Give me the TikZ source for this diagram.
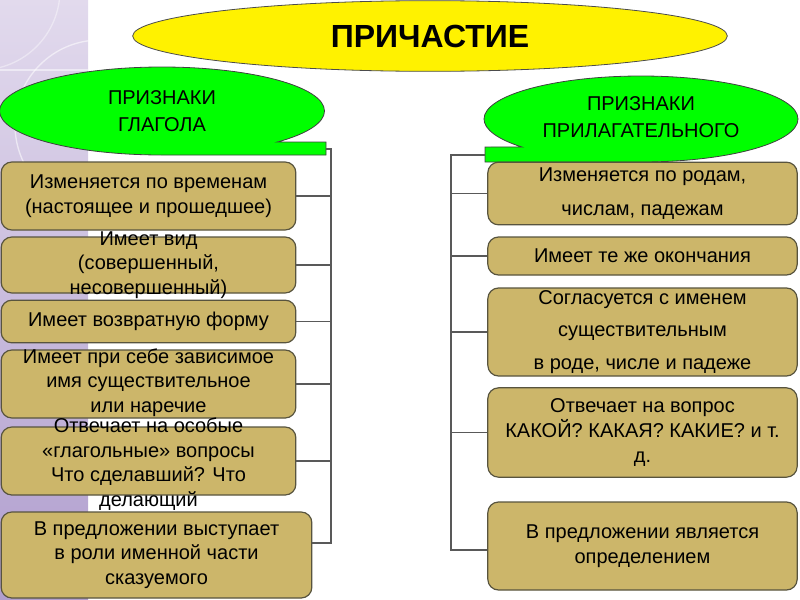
\documentclass[tikz,border=0pt]{standalone}
\usepackage{fontspec}
\setmainfont{Liberation Sans}
\usetikzlibrary{shapes.geometric}

\definecolor{signfill}{RGB}{204,182,106}
\definecolor{signline}{RGB}{88,84,62}
\definecolor{lilactop}{RGB}{226,218,237}
\definecolor{lilacbot}{RGB}{176,158,206}
\definecolor{limegreen}{RGB}{0,255,0}

\tikzstyle{sign} = [rectangle, rounded corners=8pt, draw=signline, line width=0.9pt, fill=signfill, minimum width=221pt]
\tikzstyle{signtext} = [align=center, inner sep=0pt, font=\fontsize{15}{18.5}\selectfont]
\tikzstyle{bubble} = [draw=black!75, line width=0.6pt, fill=limegreen]
\tikzstyle{group} = [align=center, inner sep=0pt, font=\fontsize{15}{20.5}\selectfont]
\tikzstyle{link} = [draw=black!65, line width=0.9pt]

\begin{document}
\begin{tikzpicture}[x=0.75pt, y=-0.75pt]
    \useasboundingbox (0,0) rectangle (800,600);
    % lilac strip on the left
    \shade[top color=lilactop, bottom color=lilacbot] (0,0) rectangle (88,600);
    \begin{scope}
        \clip (0,0) rectangle (88,600);
        \draw[white, opacity=0.55, line width=1pt] (100,125) circle (85);
        \draw[white, opacity=0.4, line width=1pt] (-20,-10) circle (80);
        \draw[white, opacity=0.5, line width=0.8pt] (0,70) -- (88,70);
    \end{scope}

    % green bubbles with their tabs
    \draw[bubble] (162,155) arc[start angle=90, end angle=404.8, x radius=162.5, y radius=44]
        -- (326,142) -- (326,155) -- cycle;
    \node (glagol) at (162,111) [group] {ПРИЗНАКИ\\ГЛАГОЛА};
    \coordinate (gtab) at (326,149);
    \draw[bubble] (641,162) arc[start angle=90, end angle=-220.6, x radius=157, y radius=43]
        -- (485,147) -- (485,162) -- cycle;
    \node (prilag) at (641,117) [group] {ПРИЗНАКИ\\ПРИЛАГАТЕЛЬНОГО};
    \coordinate (ptab) at (485,155);

    % title
    \node (prich) at (430,36) [ellipse, draw=black!70, line width=0.6pt, fill=yellow, minimum width=446pt, minimum height=53pt, font=\fontsize{24}{28}\selectfont\bfseries] {ПРИЧАСТИЕ};

    % left column
    \node (l1) at (148.5,196) [sign, minimum height=51pt] {};
    \node (l1t) at (l1) [signtext] {Изменяется по временам\\(настоящее и прошедшее)};
    \node (l2) at (148.5,265) [sign, minimum height=42pt] {};
    \node (l2t) at (l2) [signtext] {Имеет вид\\(совершенный,\\несовершенный)};
    \node (l3) at (148.5,321.5) [sign, minimum height=32pt] {};
    \node (l3t) at (l3) [signtext] {Имеет возвратную форму};
    \node (l4) at (148.5,384) [sign, minimum height=51pt] {};
    \node (l4t) at (148.5,382.5) [signtext] {Имеет при себе зависимое\\имя существительное\\или наречие};
    \node (l5) at (148.5,461) [sign, minimum height=51pt] {};
    \node (l5t) at (148.5,464) [signtext] {Отвечает на особые\\«глагольные» вопросы\\Что сделавший? Что\\делающий};
    \node (l6) at (156.5,555) [sign, minimum width=233pt, minimum height=64.5pt] {};
    \node (l6t) at (l6) [signtext] {В предложении выступает\\в роли именной части\\сказуемого};

    % right column
    \node (r1) at (642.5,193.5) [sign, minimum width=232pt, minimum height=47pt] {};
    \node (r1t) at (r1) [signtext] {Изменяется по родам,\\[7pt]числам, падежам};
    \node (r2) at (642.5,256) [sign, minimum width=232pt, minimum height=28.5pt] {};
    \node (r2t) at (r2) [signtext] {Имеет те же окончания};
    \node (r3) at (642.5,332) [sign, minimum width=232pt, minimum height=66pt] {};
    \node (r3t) at (r3) [signtext] {Согласуется с именем\\[6pt]существительным\\[6pt]в роде, числе и падеже};
    \node (r4) at (642.5,432.5) [sign, minimum width=232pt, minimum height=67pt] {};
    \node (r4t) at (r4) [signtext] {Отвечает на вопрос\\КАКОЙ? КАКАЯ? КАКИЕ? и т.\\д.};
    \node (r5) at (642.5,546) [sign, minimum width=232pt, minimum height=66pt] {};
    \node (r5t) at (r5) [signtext] {В предложении является\\определением};

    % brackets
    \coordinate (lbar) at (331,149);
    \coordinate (lend) at (331,543);
    \coordinate (rbar) at (451,155);
    \coordinate (rend) at (451,550);
    \draw[link] (gtab) -- (lbar) -- (lend) -- (lend -| l6.east);
    \foreach \n in {l1,l2,l3,l4,l5}
        \draw[link] (\n.east) -- (\n.east -| lbar);
    \draw[link] (ptab) -- (rbar) -- (rend) -- (rend -| r5.west);
    \foreach \n in {r1,r2,r3,r4}
        \draw[link] (\n.west) -- (\n.west -| rbar);
\end{tikzpicture}
\end{document}
